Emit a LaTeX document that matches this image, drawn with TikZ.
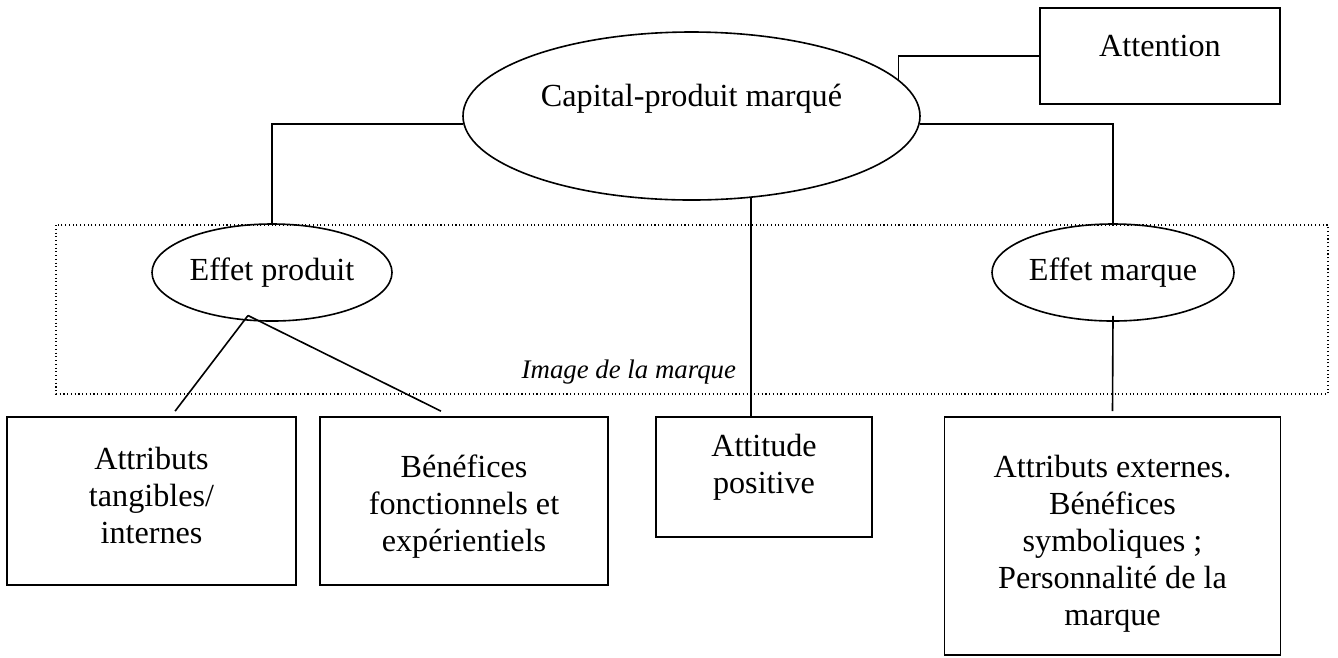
\documentclass[tikz,border=0pt]{standalone}
\usepackage{fontspec}
\setmainfont{Liberation Serif}
\usetikzlibrary{shapes.geometric,calc}

\newcommand\pxu{0.01311cm}

\begin{document}
\begin{tikzpicture}[
  x=\pxu, y=-\pxu,
  font=\fontsize{12}{13.8}\selectfont,
  line width=.6pt,
  oval/.style={draw,ellipse,inner sep=0pt},
  box/.style={draw,rectangle,align=center,inner sep=0pt},
  frame/.style={densely dotted,line width=.4pt}
]
\useasboundingbox (0,0) rectangle (1338,657);

% top level
\node[oval,minimum width=457*\pxu,minimum height=168*\pxu,text height=8pt,text depth=15.4pt]
  (capital) at (691.5,116) {Capital-produit marqué};
\node[box,minimum width=240*\pxu,minimum height=96*\pxu,text height=9pt,text depth=9pt]
  (attention) at (1160,56) {Attention};

% image de la marque
\draw[frame] (56,225) rectangle (1328,394);
\node[font=\itshape\fontsize{10}{12}\selectfont,anchor=base west] (imgmarque) at (512,378) {Image de la marque};
\node[oval,minimum width=240*\pxu,minimum height=97*\pxu] (eprod) at (272,272.5) {Effet produit};
\node[oval,minimum width=242*\pxu,minimum height=97*\pxu] (emarq) at (1113,272.5) {Effet marque};

% bottom boxes
\node[box,minimum width=289*\pxu,minimum height=168*\pxu,text depth=4.4pt] (tangib) at (151.5,501)
  {Attributs\\tangibles/\\internes};
\node[box,minimum width=288*\pxu,minimum height=168*\pxu,text height=39.9pt] (benef) at (464,501)
  {Bénéfices\\fonctionnels et\\expérientiels};
\node[box,minimum width=216*\pxu,minimum height=120*\pxu,text depth=10pt] (attitude) at (764,477)
  {Attitude\\positive};
\node[box,minimum width=336*\pxu,minimum height=238*\pxu,text height=69.5pt] (externes) at (1112.5,536)
  {Attributs externes.\\Bénéfices\\symboliques ;\\Personnalité de la\\marque};

% links
\draw (capital.182) -| (eprod.north);
\draw (capital.358) -| (emarq.north);
\draw (attention.west) -| (capital.10);
\draw (capital.-54) -- (capital.-54 |- attitude.north);
\coordinate (pfork) at ($(eprod.center)+(-24,43)$);
\draw (pfork) -- ([xshift=8.8pt,yshift=1.9pt]tangib.north);
\draw (pfork) -- ([xshift=-8.6pt,yshift=1.9pt]benef.north);
\draw ([yshift=2.2pt]emarq.south) -- ([yshift=1.9pt]externes.north);
\end{tikzpicture}
\end{document}
